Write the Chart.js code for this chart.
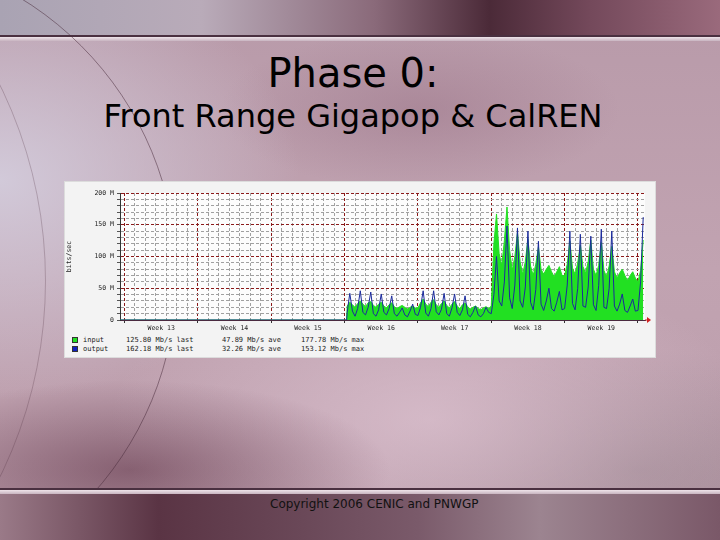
<!DOCTYPE html>
<html>
<head>
<meta charset="utf-8">
<script src="https://cdn.jsdelivr.net/npm/chart.js@4"></script>
<style>
  body { margin: 0; }
  #slide {
    position: relative; width: 720px; height: 540px; overflow: hidden;
    font-family: "DejaVu Sans", sans-serif;
    background:
      radial-gradient(ellipse 260px 90px at 130px 470px, rgba(90,45,65,0.55), rgba(90,45,65,0) 100%),
      radial-gradient(ellipse 300px 220px at 0px 180px, rgba(212,206,222,0.9), rgba(212,206,222,0) 100%),
      radial-gradient(ellipse 320px 160px at 430px 420px, rgba(222,196,210,0.7), rgba(222,196,210,0) 100%),
      radial-gradient(ellipse 260px 120px at 640px 470px, rgba(150,130,140,0.6), rgba(150,130,140,0) 100%),
      radial-gradient(ellipse 200px 80px at 420px 110px, rgba(150,110,130,0.45), rgba(150,110,130,0) 100%),
      linear-gradient(to bottom, #b89aa9 0%, #c1a3b1 50%, #bb9dab 100%);
  }
  #topband {
    position: absolute; left: 0; top: 0; width: 720px; height: 36px;
    background: linear-gradient(to right, #a9a3b3 0%, #b9abb9 28%, #8a6a7a 52%, #4b2a38 68%, #74495b 82%, #9a6a7c 100%);
  }
  .rule { position: absolute; left: 0; width: 720px; }
  .arc { position: absolute; border-radius: 50%; }
  #botband {
    position: absolute; left: 0; top: 494px; width: 720px; height: 46px;
    background: linear-gradient(to right, #9a7a88 0%, #5a3444 22%, #6a4858 42%, #7a5a6a 58%, #9c8490 75%, #7a5868 100%);
  }
  h1, h2 { position: absolute; left: 0; width: 720px; margin: 0; font-weight: normal; color: #000; text-align: center; }
  h1 { top: 50px; left: -7px; font-size: 40px; }
  h2 { top: 97px; left: -7px; font-size: 32px; }
  #copy { position: absolute; top: 497px; left: 270px; font-size: 12px; color: #111; }
  #panel {
    position: absolute; left: 64px; top: 181px; width: 592px; height: 177px;
    background: #f3f3f3; border: 1px solid #dcdcdc; box-sizing: border-box;
  }
  #wrap { position: absolute; left: 0; top: 0; width: 590px; height: 152px; }
  .row { position: absolute; left: 0; height: 9px; font: 7px "DejaVu Sans Mono", monospace; color: #222; white-space: pre; }
  .row span { position: absolute; top: 0; }
  .sw { position: absolute; left: 7px; top: 1px; width: 6px; height: 6px; box-sizing: border-box; border: 1px solid #333; }
</style>
</head>
<body>
<div id="slide">
  <div id="topband"></div>
  <div class="rule" style="top:35px;height:2px;background:#4a3040"></div>
  <div class="rule" style="top:37px;height:4px;background:linear-gradient(to bottom,#efe4ea,#c8b4c0)"></div>
  <div class="arc" style="left:-475px;top:-50px;width:650px;height:650px;border:1px solid rgba(70,40,55,0.5)"></div>
  <div class="arc" style="left:-844px;top:-164px;width:888px;height:888px;border:1px solid rgba(70,40,55,0.25)"></div>
  <div id="botband"></div>
  <div class="rule" style="top:488px;height:2px;background:#4a3040"></div>
  <div class="rule" style="top:490px;height:4px;background:linear-gradient(to bottom,#efe4ea,#c8b4c0)"></div>

  <h1>Phase 0:</h1>
  <h2>Front Range Gigapop &amp; CalREN</h2>

  <div id="panel">
    <div id="wrap"><canvas id="mrtg"></canvas></div>
    <div class="row" style="top:154px">
      <div class="sw" style="background:#22e022"></div>
      <span style="left:18px">input</span>
      <span style="left:61px" id="inLast"></span>
      <span style="left:157px" id="inAve"></span>
      <span style="left:236px" id="inMax"></span>
    </div>
    <div class="row" style="top:163px">
      <div class="sw" style="background:#1020c0"></div>
      <span style="left:18px">output</span>
      <span style="left:61px" id="outLast"></span>
      <span style="left:157px" id="outAve"></span>
      <span style="left:236px" id="outMax"></span>
    </div>
  </div>

  <div id="copy">Copyright 2006 CENIC and PNWGP</div>
</div>

<script>
// x axis is measured in days; week boundaries fall on multiples of 7
const weekLabels = ['Week 13', 'Week 14', 'Week 15', 'Week 16', 'Week 17', 'Week 18', 'Week 19'];
const dayMin = -0.43;
const dayMax = 49.67;
const idleUntil = 21.2;     // no traffic before this day
const sampleStart = 21.25;  // first sample with traffic
const sampleStep = 0.25;    // one sample every 6 hours

// Mb/s
const inputMbps = [
  22, 28, 24,
  20, 26, 30, 25,
  21, 27, 29, 23,
  20, 25, 28, 22,
  19, 24, 27, 21,
  18, 21, 23, 20,
  17, 20, 22, 19,
  19, 27, 33, 25,
  21, 28, 32, 24,
  20, 26, 30, 23,
  19, 25, 29, 22,
  18, 24, 27, 21,
  17, 20, 22, 18,
  16, 19, 21, 18,
  22, 120, 167, 105,
  85, 125, 178, 110,
  78, 100, 138, 92,
  72, 92, 128, 85,
  70, 88, 115, 80,
  72, 80, 86, 76,
  68, 76, 84, 70,
  70, 88, 124, 82,
  72, 90, 118, 84,
  74, 92, 126, 80,
  70, 86, 122, 78,
  68, 85, 116, 76,
  66, 74, 80, 70,
  62, 70, 76, 66,
  60, 78, 126
];
const outputMbps = [
  12, 42, 14,
  6, 18, 46, 12,
  8, 20, 44, 10,
  6, 16, 41, 12,
  8, 18, 38, 10,
  6, 12, 19, 8,
  5, 14, 25, 9,
  7, 20, 46, 11,
  6, 18, 46, 13,
  8, 17, 42, 10,
  6, 19, 41, 12,
  7, 16, 38, 9,
  5, 12, 22, 8,
  5, 10, 20, 12,
  10, 40, 100, 30,
  22, 60, 148, 35,
  18, 55, 145, 30,
  20, 52, 140, 28,
  16, 48, 124, 25,
  15, 30, 50, 18,
  14, 28, 45, 16,
  18, 55, 140, 26,
  16, 50, 135, 22,
  20, 52, 132, 24,
  15, 54, 143, 20,
  18, 50, 140, 22,
  14, 25, 41, 15,
  12, 22, 33, 14,
  15, 60, 162
];
const inputStats = ['125.80 Mb/s last', '47.89 Mb/s ave', '177.78 Mb/s max'];
const outputStats = ['162.18 Mb/s last', '32.26 Mb/s ave', '153.12 Mb/s max'];

document.getElementById('inLast').textContent = inputStats[0];
document.getElementById('inAve').textContent = inputStats[1];
document.getElementById('inMax').textContent = inputStats[2];
document.getElementById('outLast').textContent = outputStats[0];
document.getElementById('outAve').textContent = outputStats[1];
document.getElementById('outMax').textContent = outputStats[2];

function toPoints(values) {
  const pts = [{ x: dayMin, y: 0 }, { x: idleUntil, y: 0 }];
  values.forEach((v, i) => pts.push({ x: sampleStart + i * sampleStep, y: v }));
  return pts;
}

const red = '#8b1a1a';
const grey = '#a0a0a0';
const tickFont = { family: 'DejaVu Sans Mono', size: 6.5 };

// white plot area + red arrow at the end of the time axis
const mrtgDecor = {
  id: 'mrtgDecor',
  beforeDraw(chart) {
    const { ctx, chartArea: a } = chart;
    ctx.save();
    ctx.fillStyle = '#fcfcfc';
    ctx.fillRect(a.left, a.top, a.right - a.left, a.bottom - a.top);
    ctx.restore();
  },
  afterDraw(chart) {
    const { ctx, chartArea: a } = chart;
    ctx.save();
    ctx.strokeStyle = '#d02020';
    ctx.fillStyle = '#d02020';
    ctx.beginPath();
    ctx.moveTo(a.right, a.bottom);
    ctx.lineTo(a.right + 3, a.bottom);
    ctx.stroke();
    ctx.beginPath();
    ctx.moveTo(a.right + 6, a.bottom);
    ctx.lineTo(a.right + 2, a.bottom - 3);
    ctx.lineTo(a.right + 2, a.bottom + 3);
    ctx.closePath();
    ctx.fill();
    ctx.restore();
  }
};

new Chart(document.getElementById('mrtg'), {
  type: 'line',
  data: {
    datasets: [
      {
        label: 'output',
        data: toPoints(outputMbps),
        borderColor: '#1a2a9c',
        borderWidth: 1,
        pointRadius: 0,
        tension: 0,
        fill: false,
        order: 1
      },
      {
        label: 'input',
        data: toPoints(inputMbps),
        borderColor: '#22e022',
        backgroundColor: '#22e022',
        borderWidth: 1,
        pointRadius: 0,
        tension: 0,
        fill: 'origin',
        order: 2
      }
    ]
  },
  options: {
    responsive: true,
    maintainAspectRatio: false,
    animation: false,
    layout: { padding: { top: 11, right: 10, left: 0, bottom: 0 } },
    plugins: { legend: { display: false }, tooltip: { enabled: false } },
    scales: {
      x: {
        type: 'linear',
        min: dayMin,
        max: dayMax,
        afterBuildTicks(scale) {
          const ticks = [];
          for (let h = 0; h <= 99; h++) ticks.push({ value: h / 2 });
          scale.ticks = ticks;
        },
        afterFit(scale) { scale.height = 14; },
        grid: {
          color: c => c.tick.value % 7 === 0 ? red : (c.tick.value % 1 === 0 ? grey : 'rgba(0,0,0,0)'),
          tickColor: c => c.tick.value % 7 === 0 ? '#333' : 'rgba(0,0,0,0)',
          tickLength: 3,
          lineWidth: 1
        },
        border: { display: true, color: '#4a2a40', width: 1, dash: [3, 2] },
        ticks: {
          autoSkip: false,
          maxRotation: 0,
          padding: 1,
          color: '#222',
          font: tickFont,
          callback: v => {
            const k = (v - 3.5) / 7;
            return Number.isInteger(k) ? weekLabels[k] : '';
          }
        }
      },
      y: {
        min: 0,
        max: 200,
        afterFit(scale) { scale.width = 55; },
        title: { display: true, text: 'bits/sec', color: '#222', font: tickFont, padding: { top: 0, bottom: 0 } },
        grid: {
          color: c => c.tick.value === 0 ? '#333' : (c.tick.value % 50 === 0 ? red : grey),
          tickColor: '#555',
          tickLength: 3,
          lineWidth: 1
        },
        border: { display: true, color: '#333', width: 1, dash: [3, 2] },
        ticks: {
          stepSize: 10,
          autoSkip: false,
          padding: 3,
          color: '#222',
          font: tickFont,
          callback: v => v % 50 !== 0 ? '' : (v === 0 ? '0' : v + ' M')
        }
      }
    }
  },
  plugins: [mrtgDecor]
});
</script>
</body>
</html>
